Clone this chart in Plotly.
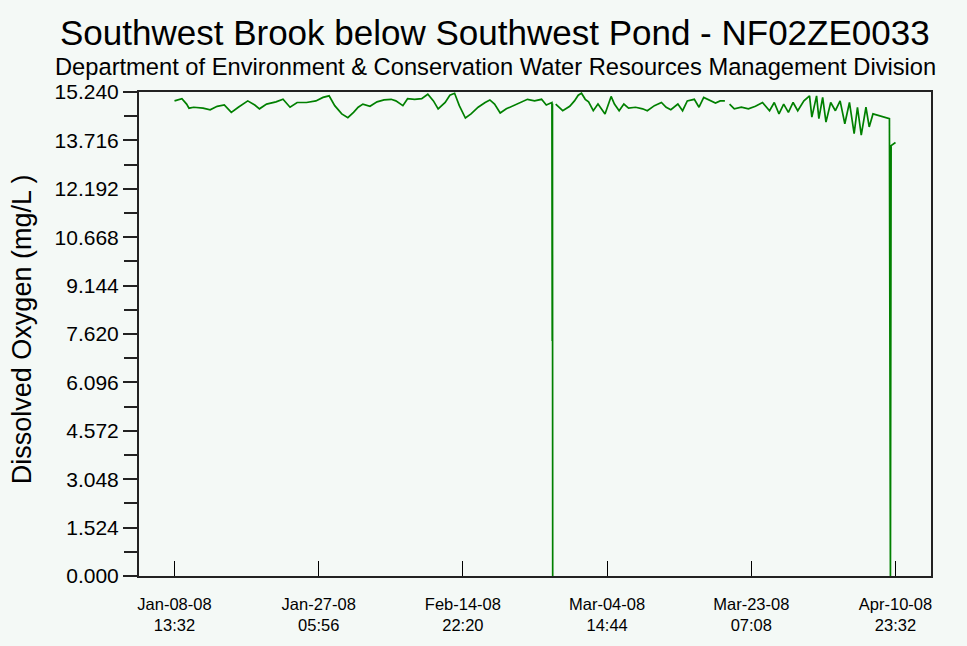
import datetime as dt
import plotly.graph_objects as go

# ---- data ----
start_time = dt.datetime(2008, 1, 8, 13, 32)
end_time = dt.datetime(2008, 4, 10, 23, 32)

# elapsed days since start_time
elapsed_days = [
    0.0, 0.96, 1.57, 1.88, 2.49, 3.70, 4.62, 5.53, 6.45, 7.36, 8.27, 9.49, 10.40, 11.01,
    11.93, 13.15, 14.06, 14.97, 15.89, 17.10, 18.32, 19.24, 20.03, 20.76, 21.67, 22.46,
    23.20, 23.80, 24.41, 25.33, 26.24, 27.15, 28.07, 28.68, 29.59, 30.20, 31.11, 32.03,
    32.82, 33.55, 34.16, 35.07, 35.68, 36.29, 36.90, 37.69, 38.42, 39.34, 40.25, 40.86,
    41.47, 42.20, 42.99, 43.90, 44.82, 45.73, 46.65, 47.56, 48.17, 48.90,
    48.94, 48.97, 49.00, 49.03,
    49.39, 50.30, 51.21, 51.82, 52.31, 52.73, 53.22, 53.65, 54.26, 54.87, 55.78, 56.57,
    57.00, 57.61, 58.22, 58.83, 59.74, 60.65, 61.26, 62.18, 63.09, 63.70, 64.31, 65.22,
    65.83, 66.44, 67.35, 67.96, 68.57, 69.49, 70.09, 70.70, 71.31, 71.60,
    71.92, 72.53, 73.44, 74.36, 75.27, 76.19, 77.10, 77.71, 78.32, 78.93, 79.54, 80.15,
    80.75, 81.55, 82.28, 82.58, 83.19, 83.49, 83.98, 84.41, 85.02, 85.63, 86.24, 86.85,
    87.45, 88.06, 88.49, 88.98, 89.59, 90.01, 90.50, 91.11, 91.72, 92.63,
    92.76, 92.85, 93.4167,
]

do_values = [
    14.96, 15.03, 14.86, 14.73, 14.76, 14.73, 14.68, 14.79, 14.83, 14.60, 14.76, 14.96, 14.83, 14.71,
    14.86, 14.93, 15.01, 14.76, 14.91, 14.91, 14.96, 15.07, 15.12, 14.81, 14.55, 14.43,
    14.60, 14.76, 14.86, 14.79, 14.93, 14.99, 15.01, 14.96, 14.81, 15.03, 15.01, 15.03,
    15.17, 14.96, 14.71, 14.91, 15.14, 15.20, 14.81, 14.42, 14.55, 14.76, 14.91, 14.99,
    14.86, 14.58, 14.71, 14.81, 14.89, 15.01, 14.96, 15.01, 14.83, 14.91,
    7.40, 14.88, 0.00, None,
    14.86, 14.65, 14.79, 14.96, 15.14, 15.20, 15.01, 14.93, 14.65, 14.86, 14.55, 15.10,
    14.86, 14.65, 14.86, 14.73, 14.76, 14.71, 14.65, 14.81, 14.91, 14.76, 14.68, 14.86,
    14.65, 14.96, 15.01, 14.76, 15.07, 14.96, 14.89, 14.96, 14.96, None,
    14.86, 14.71, 14.76, 14.71, 14.79, 14.91, 14.65, 14.91, 14.55, 14.86, 14.60, 14.91,
    14.65, 14.96, 15.12, 14.45, 15.12, 14.40, 15.07, 14.29, 14.91, 14.65, 14.96, 14.24,
    14.91, 13.93, 14.76, 13.88, 14.76, 14.14, 14.55, 14.50, 14.45, 14.40,
    0.00, 13.55, 13.65,
]

y_tick_values = [0.000, 1.524, 3.048, 4.572, 6.096, 7.620, 9.144, 10.668, 12.192, 13.716, 15.240]
x_tick_labels = [
    "Jan-08-08<br>13:32", "Jan-27-08<br>05:56", "Feb-14-08<br>22:20",
    "Mar-04-08<br>14:44", "Mar-23-08<br>07:08", "Apr-10-08<br>23:32",
]

title_text = "Southwest Brook below Southwest Pond - NF02ZE0033"
subtitle_text = "Department of Environment & Conservation Water Resources Management Division"
y_title = "Dissolved Oxygen (mg/L )"

# ---- build ----
times = [start_time + dt.timedelta(days=d) for d in elapsed_days]
span = end_time - start_time
x_tick_vals = [start_time + span * i / 5 for i in range(6)]
pad = dt.timedelta(days=4.6)

BG = "#F4F9F6"
FONT = "Liberation Sans, Arial, sans-serif"

fig = go.Figure()
fig.add_trace(go.Scatter(
    x=times, y=do_values, mode="lines",
    line=dict(color="#008000", width=1.7),
    connectgaps=False, hoverinfo="skip", showlegend=False,
))

fig.update_layout(
    width=967, height=646,
    paper_bgcolor=BG, plot_bgcolor=BG,
    margin=dict(l=139, r=36, t=92, b=68),
    font=dict(family=FONT, color="#000000"),
    showlegend=False,
)

fig.update_xaxes(
    range=[start_time - pad, end_time + pad],
    tickvals=x_tick_vals, ticktext=x_tick_labels,
    ticks="inside", ticklen=15, tickwidth=1, tickcolor="#000000",
    tickfont=dict(size=16.5, family=FONT),
    ticklabelstandoff=12,
    showgrid=False, zeroline=False,
    showline=True, linecolor="#222222", linewidth=2, mirror=True,
)

fig.update_yaxes(
    range=[0, 15.24],
    tickvals=y_tick_values, tickformat=".3f",
    ticks="outside", ticklen=14, tickwidth=1.5, tickcolor="#222222",
    tickfont=dict(size=21, family=FONT),
    minor=dict(tickvals=[v + 0.762 for v in y_tick_values[:-1]], ticks="outside",
               ticklen=13, tickwidth=1.5, tickcolor="#222222"),
    showgrid=False, zeroline=False,
    showline=True, linecolor="#222222", linewidth=2, mirror=True,
)

fig.add_annotation(text=title_text, xref="paper", yref="paper", x=0.4495, y=1,
                   yshift=60, showarrow=False, font=dict(size=35, family=FONT),
                   xanchor="center", yanchor="middle")
fig.add_annotation(text=subtitle_text, xref="paper", yref="paper", x=0.4495, y=1,
                   yshift=25, showarrow=False, font=dict(size=23.7, family=FONT),
                   xanchor="center", yanchor="middle")
fig.add_annotation(text=y_title, xref="paper", yref="paper", x=-0.1477, y=0.51,
                   textangle=-90, showarrow=False, font=dict(size=27, family=FONT),
                   xanchor="center", yanchor="middle")

fig.write_html("out.html", config={"displayModeBar": False},
               post_script="document.body.style.margin='0';document.body.style.padding='0';")
